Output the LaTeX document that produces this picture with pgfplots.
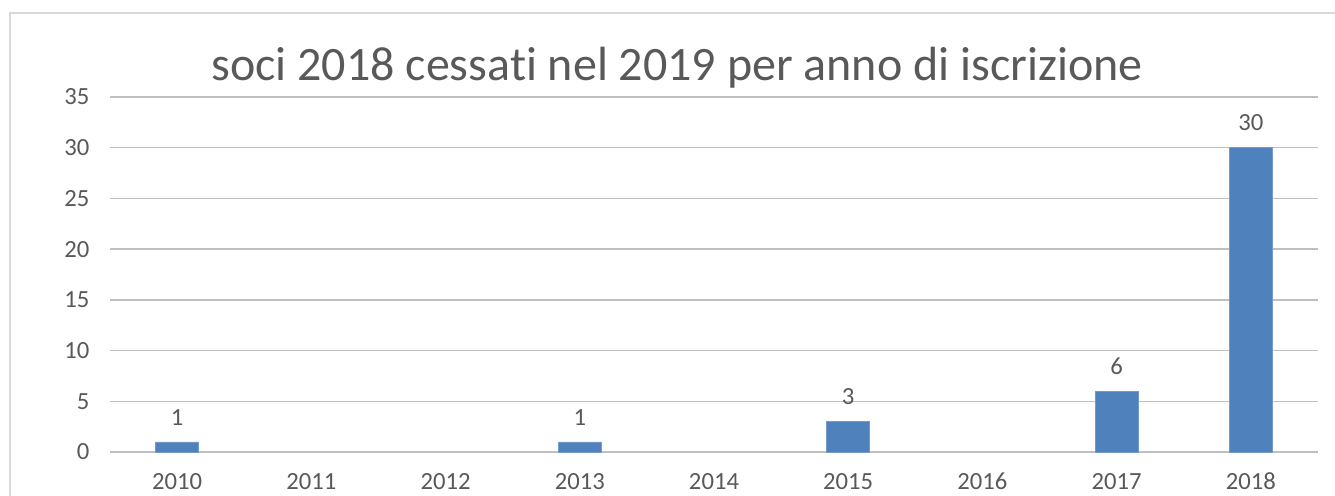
\documentclass[border=0pt]{standalone}
\usepackage{pgfplots}
\pgfplotsset{compat=1.18}
\usepackage{fontspec}
\setmainfont[Ligatures={NoCommon}]{Carlito}
\definecolor{barblue}{HTML}{4F81BD}
\definecolor{txt}{HTML}{595959}
\definecolor{grid}{HTML}{D9D9D9}
\begin{document}
\begin{tikzpicture}[x=0.75pt,y=0.75pt]
\path[use as bounding box] (0,0) rectangle (1335,496);
\draw[grid, line width=1.5] (10,0) -- (10,483) -- (1335,483);
\node[txt, font=\fontsize{36}{40}\selectfont] at (677,428) {soci 2018 cessati nel 2019 per anno di iscrizione};
\begin{axis}[
  at={(82.5pt,33pt)}, anchor=south west,
  scale only axis,
  width=906pt, height=266.25pt,
  xmin=-0.5, xmax=8.5, ymin=0, ymax=35,
  ytick={0,5,...,35},
  xtick={0,...,8},
  xticklabels={2010,2011,2012,2013,2014,2015,2016,2017,2018},
  axis line style={draw=none},
  tick style={draw=none},
  xmajorgrids=false, ymajorgrids=true,
  grid style={grid, line width=1.1pt},
  major tick length=0pt,
  tick label style={txt, font=\fontsize{18.5}{20}\selectfont},
  yticklabel style={xshift=-12pt},
  xticklabel style={anchor=base, yshift=-28pt},
  /pgf/number format/assume math mode=true,
  clip=false,
]
\addplot[ybar, bar width=0.32, fill=barblue, draw=barblue!80!white,
  nodes near coords={\pgfmathprintnumber{\pgfplotspointmeta}},
  nodes near coords style={txt, font=\fontsize{18.5}{20}\selectfont, yshift=9pt, /pgf/number format/assume math mode=true},
  point meta=y]
  coordinates {(0,1) (3,1) (5,3) (7,6) (8,30)};
\end{axis}
\end{tikzpicture}
\end{document}
